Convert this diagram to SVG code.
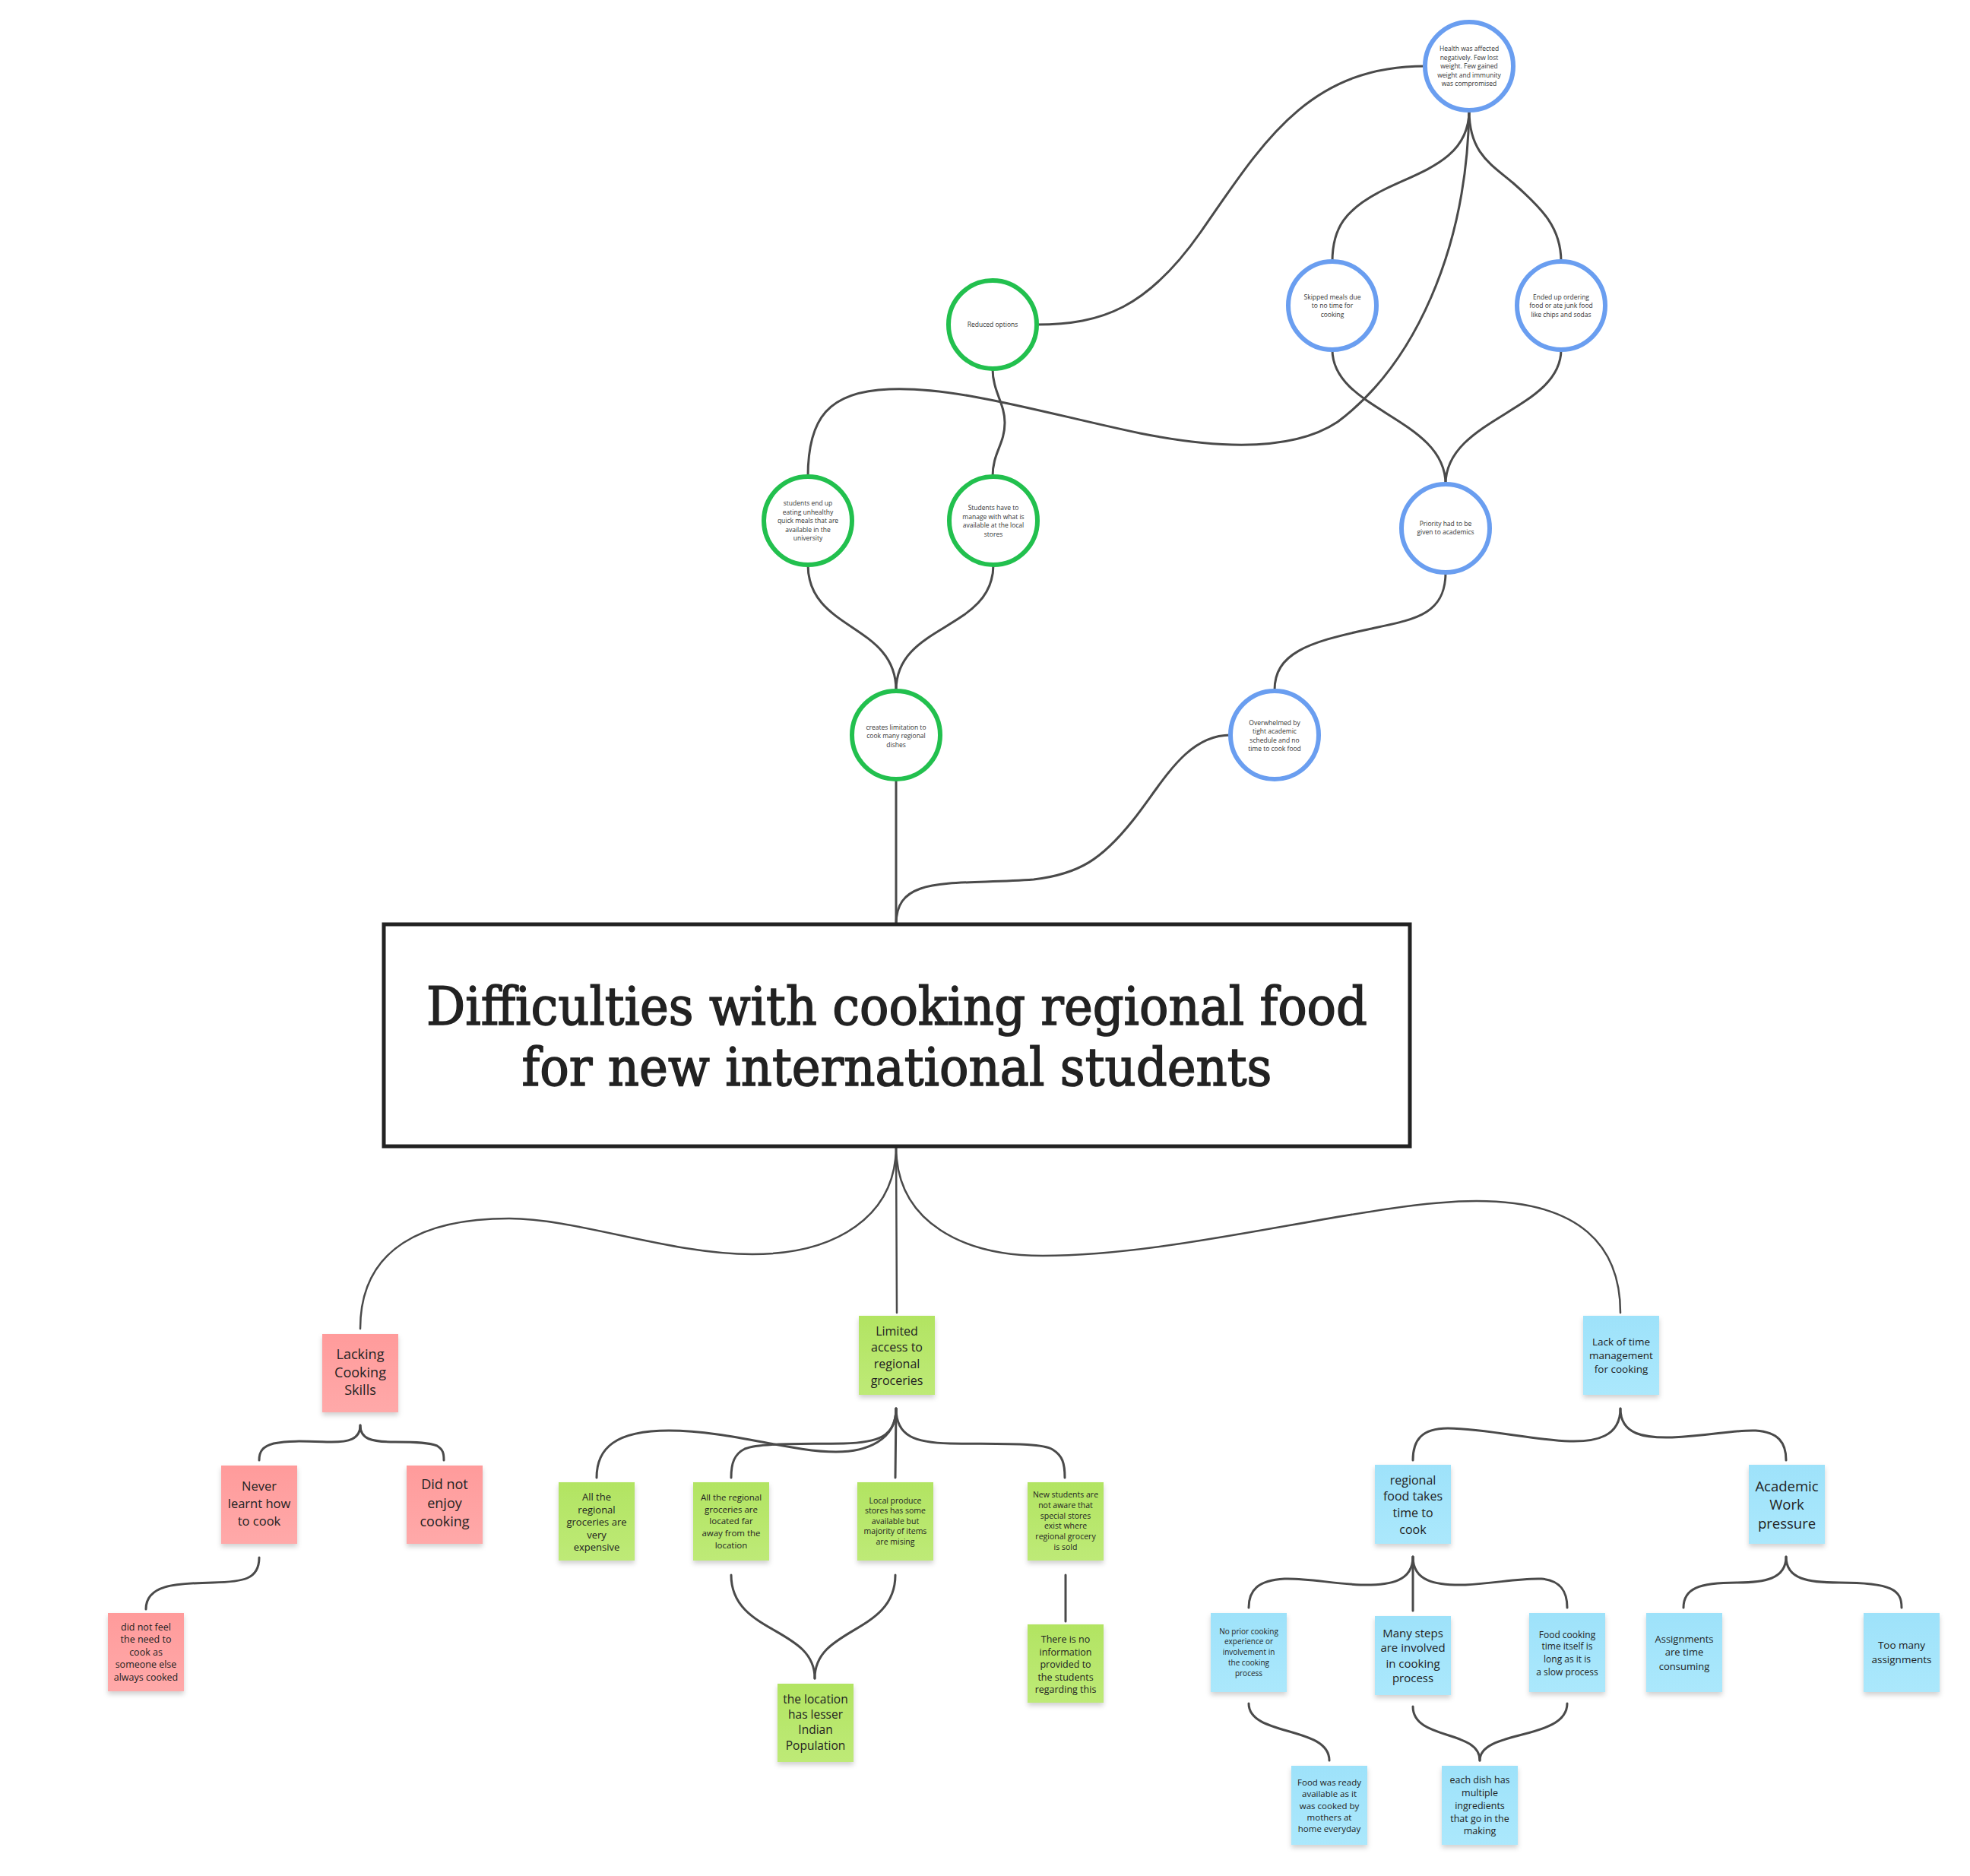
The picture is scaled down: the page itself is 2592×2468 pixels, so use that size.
<svg xmlns="http://www.w3.org/2000/svg" width="2592" height="2468" viewBox="0 0 2592 2468">
<defs>
<filter id="sh" x="-20%" y="-20%" width="140%" height="150%">
<feDropShadow dx="0" dy="4" stdDeviation="3" flood-color="#000" flood-opacity="0.18"/>
</filter>
<linearGradient id="gp" x1="0" y1="0" x2="0" y2="1"><stop offset="0" stop-color="#FF9B9B"/><stop offset="1" stop-color="#FFA9A9"/></linearGradient>
<linearGradient id="gg" x1="0" y1="0" x2="0" y2="1"><stop offset="0" stop-color="#B2E462"/><stop offset="1" stop-color="#BEEA77"/></linearGradient>
<linearGradient id="gb" x1="0" y1="0" x2="0" y2="1"><stop offset="0" stop-color="#9EE2FA"/><stop offset="1" stop-color="#ABE8FC"/></linearGradient>
</defs>
<style>
.c{fill:#fff;stroke-width:6}
.cg{stroke:#22C04E}
.cb{stroke:#6A9EF0}
.ct{font-family:"Open Sans","Liberation Sans",sans-serif;font-size:8.5px;fill:#333;text-anchor:middle}
.ln{fill:none;stroke:#4a4a4a;stroke-width:3;stroke-linecap:round}
.lt{fill:none;stroke:#4a4a4a;stroke-width:2.5;stroke-linecap:round}
.sp{fill:url(#gp)}
.sg{fill:url(#gg)}
.sb{fill:url(#gb)}
.st{font-family:"Open Sans","Liberation Sans",sans-serif;fill:#222;text-anchor:middle}
.title{font-family:"DejaVu Serif","Liberation Serif",serif;font-size:70px;fill:#222;stroke:#222;stroke-width:1.6;text-anchor:middle}
</style>
<rect width="2592" height="2468" fill="#fff"/>

<g id="connectors">
<path class="ln" d="M1875 87 C1720 87 1660 190 1580 305 C1510 405 1450 427 1364 427"/>
<path class="ln" d="M1933 145 C1933 210 1870 225 1820 250 C1770 275 1753 300 1753 344"/>
<path class="ln" d="M1933 145 C1933 200 1960 215 1990 240 C2030 275 2054 300 2054 344"/>
<path class="ln" d="M1933 145 C1930 330 1860 480 1760 555 C1700 595 1600 590 1500 570 C1380 545 1260 508 1170 512 C1090 515 1063 550 1063 627"/>
<path class="ln" d="M1306 485 C1306 515 1322 530 1322 556 C1322 585 1306 595 1306 627"/>
<path class="ln" d="M1753 460 C1753 540 1902 550 1902 637"/>
<path class="ln" d="M2054 460 C2054 540 1902 550 1902 637"/>
<path class="ln" d="M1063 743 C1063 830 1179 820 1179 908"/>
<path class="ln" d="M1307 743 C1307 830 1179 820 1179 908"/>
<path class="ln" d="M1902 753 C1902 810 1860 815 1800 828 C1720 845 1677 860 1677 908"/>
<path class="ln" d="M1179 1025 L1179 1216"/>
<path class="ln" d="M1619 967 C1560 967 1530 1030 1490 1080 C1450 1130 1420 1150 1360 1157 C1250 1165 1179 1150 1179 1216"/>

<path class="lt" d="M1179 1508 C1179 1600 1100 1650 990 1650 C880 1650 760 1603 670 1603 C560 1603 474 1640 474 1748"/>
<path class="lt" d="M1179 1508 L1180 1727"/>
<path class="lt" d="M1179 1508 C1179 1610 1270 1652 1372 1652 C1560 1652 1800 1580 1943 1580 C2080 1580 2132 1640 2132 1727"/>

<path class="ln" d="M474 1875 C474 1893 460 1898 430 1897 C400 1896 380 1895 360 1899 C345 1903 341 1910 341 1921"/>
<path class="ln" d="M474 1875 C474 1893 488 1897 520 1897 C550 1897 565 1898 575 1902 C583 1907 584 1912 584 1921"/>
<path class="ln" d="M341 2049 C341 2078 320 2081 280 2082 C230 2083 192 2085 192 2117"/>

<path class="ln" d="M1179 1853 C1179 1895 1140 1910 1100 1910 C1040 1910 960 1882 880 1882 C810 1882 785 1905 785 1944"/>
<path class="ln" d="M1179 1853 C1179 1890 1155 1898 1110 1899 C1050 1900 1000 1898 980 1906 C966 1913 962 1925 962 1944"/>
<path class="ln" d="M1179 1853 L1178 1944"/>
<path class="ln" d="M1179 1853 C1179 1890 1205 1898 1250 1899 C1320 1900 1370 1898 1385 1907 C1398 1915 1401 1925 1401 1944"/>
<path class="ln" d="M962 2072 C962 2150 1072 2140 1072 2208"/>
<path class="ln" d="M1178 2072 C1178 2150 1072 2140 1072 2208"/>
<path class="ln" d="M1402 2072 L1402 2133"/>

<path class="ln" d="M2132 1853 C2132 1890 2100 1897 2065 1896 C2020 1895 1960 1880 1905 1879 C1870 1879 1859 1895 1859 1921"/>
<path class="ln" d="M2132 1853 C2132 1888 2165 1892 2200 1891 C2250 1889 2280 1881 2310 1882 C2340 1884 2350 1898 2350 1921"/>
<path class="ln" d="M1859 2048 C1859 2080 1830 2086 1790 2085 C1750 2083 1720 2076 1690 2077 C1655 2079 1643 2092 1643 2115"/>
<path class="ln" d="M1859 2048 L1859 2119"/>
<path class="ln" d="M1859 2048 C1859 2080 1888 2086 1928 2085 C1968 2083 1998 2076 2028 2077 C2052 2079 2062 2092 2062 2115"/>
<path class="ln" d="M2350 2048 C2350 2078 2320 2082 2285 2082 C2235 2082 2215 2090 2215 2115"/>
<path class="ln" d="M2350 2048 C2350 2078 2380 2082 2420 2082 C2490 2082 2502 2092 2502 2115"/>
<path class="ln" d="M1643 2241 C1643 2285 1749 2270 1749 2316"/>
<path class="ln" d="M1859 2245 C1859 2290 1947 2275 1947 2316"/>
<path class="ln" d="M2062 2241 C2062 2290 1947 2275 1947 2316"/>
</g>

<g id="n-health"><circle class="c cb" cx="1933" cy="87" r="58"/>
<text class="ct" x="1933"><tspan x="1933" y="67">Health was affected</tspan><tspan x="1933" y="79">negatively. Few lost</tspan><tspan x="1933" y="90">weight. Few gained</tspan><tspan x="1933" y="102">weight and immunity</tspan><tspan x="1933" y="113">was compromised</tspan></text></g>
<g id="n-skipped"><circle class="c cb" cx="1753" cy="402" r="58"/>
<text class="ct"><tspan x="1753" y="394">Skipped meals due</tspan><tspan x="1753" y="405">to no time for</tspan><tspan x="1753" y="417">cooking</tspan></text></g>
<g id="n-ended"><circle class="c cb" cx="2054" cy="402" r="58"/>
<text class="ct"><tspan x="2054" y="394">Ended up ordering</tspan><tspan x="2054" y="405">food or ate junk food</tspan><tspan x="2054" y="417">like chips and sodas</tspan></text></g>
<g id="n-reduced"><circle class="c cg" cx="1306" cy="427" r="58"/>
<text class="ct" x="1306" y="430">Reduced options</text></g>
<g id="n-studentsend"><circle class="c cg" cx="1063" cy="685" r="58"/>
<text class="ct"><tspan x="1063" y="665">students end up</tspan><tspan x="1063" y="677">eating unhealthy</tspan><tspan x="1063" y="688">quick meals that are</tspan><tspan x="1063" y="700">available in the</tspan><tspan x="1063" y="711">university</tspan></text></g>
<g id="n-studentsmanage"><circle class="c cg" cx="1307" cy="685" r="58"/>
<text class="ct"><tspan x="1307" y="671">Students have to</tspan><tspan x="1307" y="683">manage with what is</tspan><tspan x="1307" y="694">available at the local</tspan><tspan x="1307" y="706">stores</tspan></text></g>
<g id="n-priority"><circle class="c cb" cx="1902" cy="695" r="58"/>
<text class="ct"><tspan x="1902" y="692">Priority had to be</tspan><tspan x="1902" y="703">given to academics</tspan></text></g>
<g id="n-creates"><circle class="c cg" cx="1179" cy="967" r="58"/>
<text class="ct"><tspan x="1179" y="960">creates limitation to</tspan><tspan x="1179" y="971">cook many regional</tspan><tspan x="1179" y="983">dishes</tspan></text></g>
<g id="n-overwhelmed"><circle class="c cb" cx="1677" cy="967" r="58"/>
<text class="ct"><tspan x="1677" y="954">Overwhelmed by</tspan><tspan x="1677" y="965">tight academic</tspan><tspan x="1677" y="977">schedule and no</tspan><tspan x="1677" y="988">time to cook food</tspan></text></g>

<g id="n-title"><rect x="505" y="1216" width="1350" height="292" fill="#fff" stroke="#222" stroke-width="5"/>
<text class="title" x="1180" y="1348" textLength="1238" lengthAdjust="spacingAndGlyphs">Difficulties with cooking regional food</text>
<text class="title" x="1180" y="1428" textLength="987" lengthAdjust="spacingAndGlyphs">for new international students</text></g>

<g id="s-lacking"><rect class="sp" filter="url(#sh)" x="424" y="1755" width="100" height="103"/>
<text class="st" font-size="18"><tspan x="474" y="1788">Lacking</tspan><tspan x="474" y="1812">Cooking</tspan><tspan x="474" y="1835">Skills</tspan></text></g>
<g id="s-never"><rect class="sp" filter="url(#sh)" x="291" y="1928" width="100" height="103"/>
<text class="st" font-size="16.5"><tspan x="341" y="1961">Never</tspan><tspan x="341" y="1984">learnt how</tspan><tspan x="341" y="2007">to cook</tspan></text></g>
<g id="s-didnot"><rect class="sp" filter="url(#sh)" x="535" y="1928" width="100" height="103"/>
<text class="st" font-size="18"><tspan x="585" y="1959">Did not</tspan><tspan x="585" y="1984">enjoy</tspan><tspan x="585" y="2008">cooking</tspan></text></g>
<g id="s-didnotfeel"><rect class="sp" filter="url(#sh)" x="142" y="2122" width="100" height="103"/>
<text class="st" font-size="12.5"><tspan x="192" y="2145">did not feel</tspan><tspan x="192" y="2161">the need to</tspan><tspan x="192" y="2178">cook as</tspan><tspan x="192" y="2194">someone else</tspan><tspan x="192" y="2211">always cooked</tspan></text></g>

<g id="s-limited"><rect class="sg" filter="url(#sh)" x="1130" y="1731" width="100" height="104"/>
<text class="st" font-size="16"><tspan x="1180" y="1757">Limited</tspan><tspan x="1180" y="1778">access to</tspan><tspan x="1180" y="1800">regional</tspan><tspan x="1180" y="1822">groceries</tspan></text></g>
<g id="s-expensive"><rect class="sg" filter="url(#sh)" x="735" y="1950" width="100" height="103"/>
<text class="st" font-size="13"><tspan x="785" y="1974">All the</tspan><tspan x="785" y="1991">regional</tspan><tspan x="785" y="2007">groceries are</tspan><tspan x="785" y="2024">very</tspan><tspan x="785" y="2040">expensive</tspan></text></g>
<g id="s-far"><rect class="sg" filter="url(#sh)" x="912" y="1950" width="100" height="103"/>
<text class="st" font-size="11.5"><tspan x="962" y="1974">All the regional</tspan><tspan x="962" y="1990">groceries are</tspan><tspan x="962" y="2005">located far</tspan><tspan x="962" y="2021">away from the</tspan><tspan x="962" y="2037">location</tspan></text></g>
<g id="s-local"><rect class="sg" filter="url(#sh)" x="1128" y="1950" width="100" height="103"/>
<text class="st" font-size="10.5"><tspan x="1178" y="1978">Local produce</tspan><tspan x="1178" y="1991">stores has some</tspan><tspan x="1178" y="2005">available but</tspan><tspan x="1178" y="2018">majority of items</tspan><tspan x="1178" y="2032">are mising</tspan></text></g>
<g id="s-new"><rect class="sg" filter="url(#sh)" x="1352" y="1950" width="100" height="103"/>
<text class="st" font-size="10.5"><tspan x="1402" y="1970">New students are</tspan><tspan x="1402" y="1984">not aware that</tspan><tspan x="1402" y="1998">special stores</tspan><tspan x="1402" y="2011">exist where</tspan><tspan x="1402" y="2025">regional grocery</tspan><tspan x="1402" y="2039">is sold</tspan></text></g>
<g id="s-location"><rect class="sg" filter="url(#sh)" x="1023" y="2215" width="100" height="103"/>
<text class="st" font-size="15.5"><tspan x="1073" y="2241">the location</tspan><tspan x="1073" y="2261">has lesser</tspan><tspan x="1073" y="2281">Indian</tspan><tspan x="1073" y="2302">Population</tspan></text></g>
<g id="s-noinfo"><rect class="sg" filter="url(#sh)" x="1352" y="2137" width="100" height="103"/>
<text class="st" font-size="12.5"><tspan x="1402" y="2161">There is no</tspan><tspan x="1402" y="2178">information</tspan><tspan x="1402" y="2194">provided to</tspan><tspan x="1402" y="2211">the students</tspan><tspan x="1402" y="2227">regarding this</tspan></text></g>

<g id="s-lacktime"><rect class="sb" filter="url(#sh)" x="2083" y="1731" width="100" height="104"/>
<text class="st" font-size="13.5"><tspan x="2133" y="1770">Lack of time</tspan><tspan x="2133" y="1788">management</tspan><tspan x="2133" y="1806">for cooking</tspan></text></g>
<g id="s-regionalfood"><rect class="sb" filter="url(#sh)" x="1809" y="1927" width="100" height="104"/>
<text class="st" font-size="16"><tspan x="1859" y="1953">regional</tspan><tspan x="1859" y="1974">food takes</tspan><tspan x="1859" y="1996">time to</tspan><tspan x="1859" y="2018">cook</tspan></text></g>
<g id="s-academic"><rect class="sb" filter="url(#sh)" x="2301" y="1927" width="100" height="104"/>
<text class="st" font-size="18.5"><tspan x="2351" y="1962">Academic</tspan><tspan x="2351" y="1986">Work</tspan><tspan x="2351" y="2011">pressure</tspan></text></g>
<g id="s-noprior"><rect class="sb" filter="url(#sh)" x="1593" y="2122" width="100" height="104"/>
<text class="st" font-size="10"><tspan x="1643" y="2150">No prior cooking</tspan><tspan x="1643" y="2163">experience or</tspan><tspan x="1643" y="2177">involvement in</tspan><tspan x="1643" y="2191">the cooking</tspan><tspan x="1643" y="2205">process</tspan></text></g>
<g id="s-manysteps"><rect class="sb" filter="url(#sh)" x="1809" y="2126" width="100" height="104"/>
<text class="st" font-size="15"><tspan x="1859" y="2154">Many steps</tspan><tspan x="1859" y="2173">are involved</tspan><tspan x="1859" y="2194">in cooking</tspan><tspan x="1859" y="2213">process</tspan></text></g>
<g id="s-foodcooking"><rect class="sb" filter="url(#sh)" x="2012" y="2122" width="100" height="104"/>
<text class="st" font-size="12"><tspan x="2062" y="2155">Food cooking</tspan><tspan x="2062" y="2170">time itself is</tspan><tspan x="2062" y="2187">long as it is</tspan><tspan x="2062" y="2204">a slow process</tspan></text></g>
<g id="s-assignments"><rect class="sb" filter="url(#sh)" x="2166" y="2122" width="100" height="104"/>
<text class="st" font-size="13"><tspan x="2216" y="2161">Assignments</tspan><tspan x="2216" y="2178">are time</tspan><tspan x="2216" y="2197">consuming</tspan></text></g>
<g id="s-toomany"><rect class="sb" filter="url(#sh)" x="2452" y="2122" width="100" height="104"/>
<text class="st" font-size="13.5"><tspan x="2502" y="2169">Too many</tspan><tspan x="2502" y="2188">assignments</tspan></text></g>
<g id="s-foodready"><rect class="sb" filter="url(#sh)" x="1699" y="2323" width="100" height="104"/>
<text class="st" font-size="11.5"><tspan x="1749" y="2349">Food was ready</tspan><tspan x="1749" y="2364">available as it</tspan><tspan x="1749" y="2380">was cooked by</tspan><tspan x="1749" y="2395">mothers at</tspan><tspan x="1749" y="2410">home everyday</tspan></text></g>
<g id="s-eachdish"><rect class="sb" filter="url(#sh)" x="1897" y="2323" width="100" height="104"/>
<text class="st" font-size="12.5"><tspan x="1947" y="2346">each dish has</tspan><tspan x="1947" y="2363">multiple</tspan><tspan x="1947" y="2380">ingredients</tspan><tspan x="1947" y="2397">that go in the</tspan><tspan x="1947" y="2413">making</tspan></text></g>
</svg>
